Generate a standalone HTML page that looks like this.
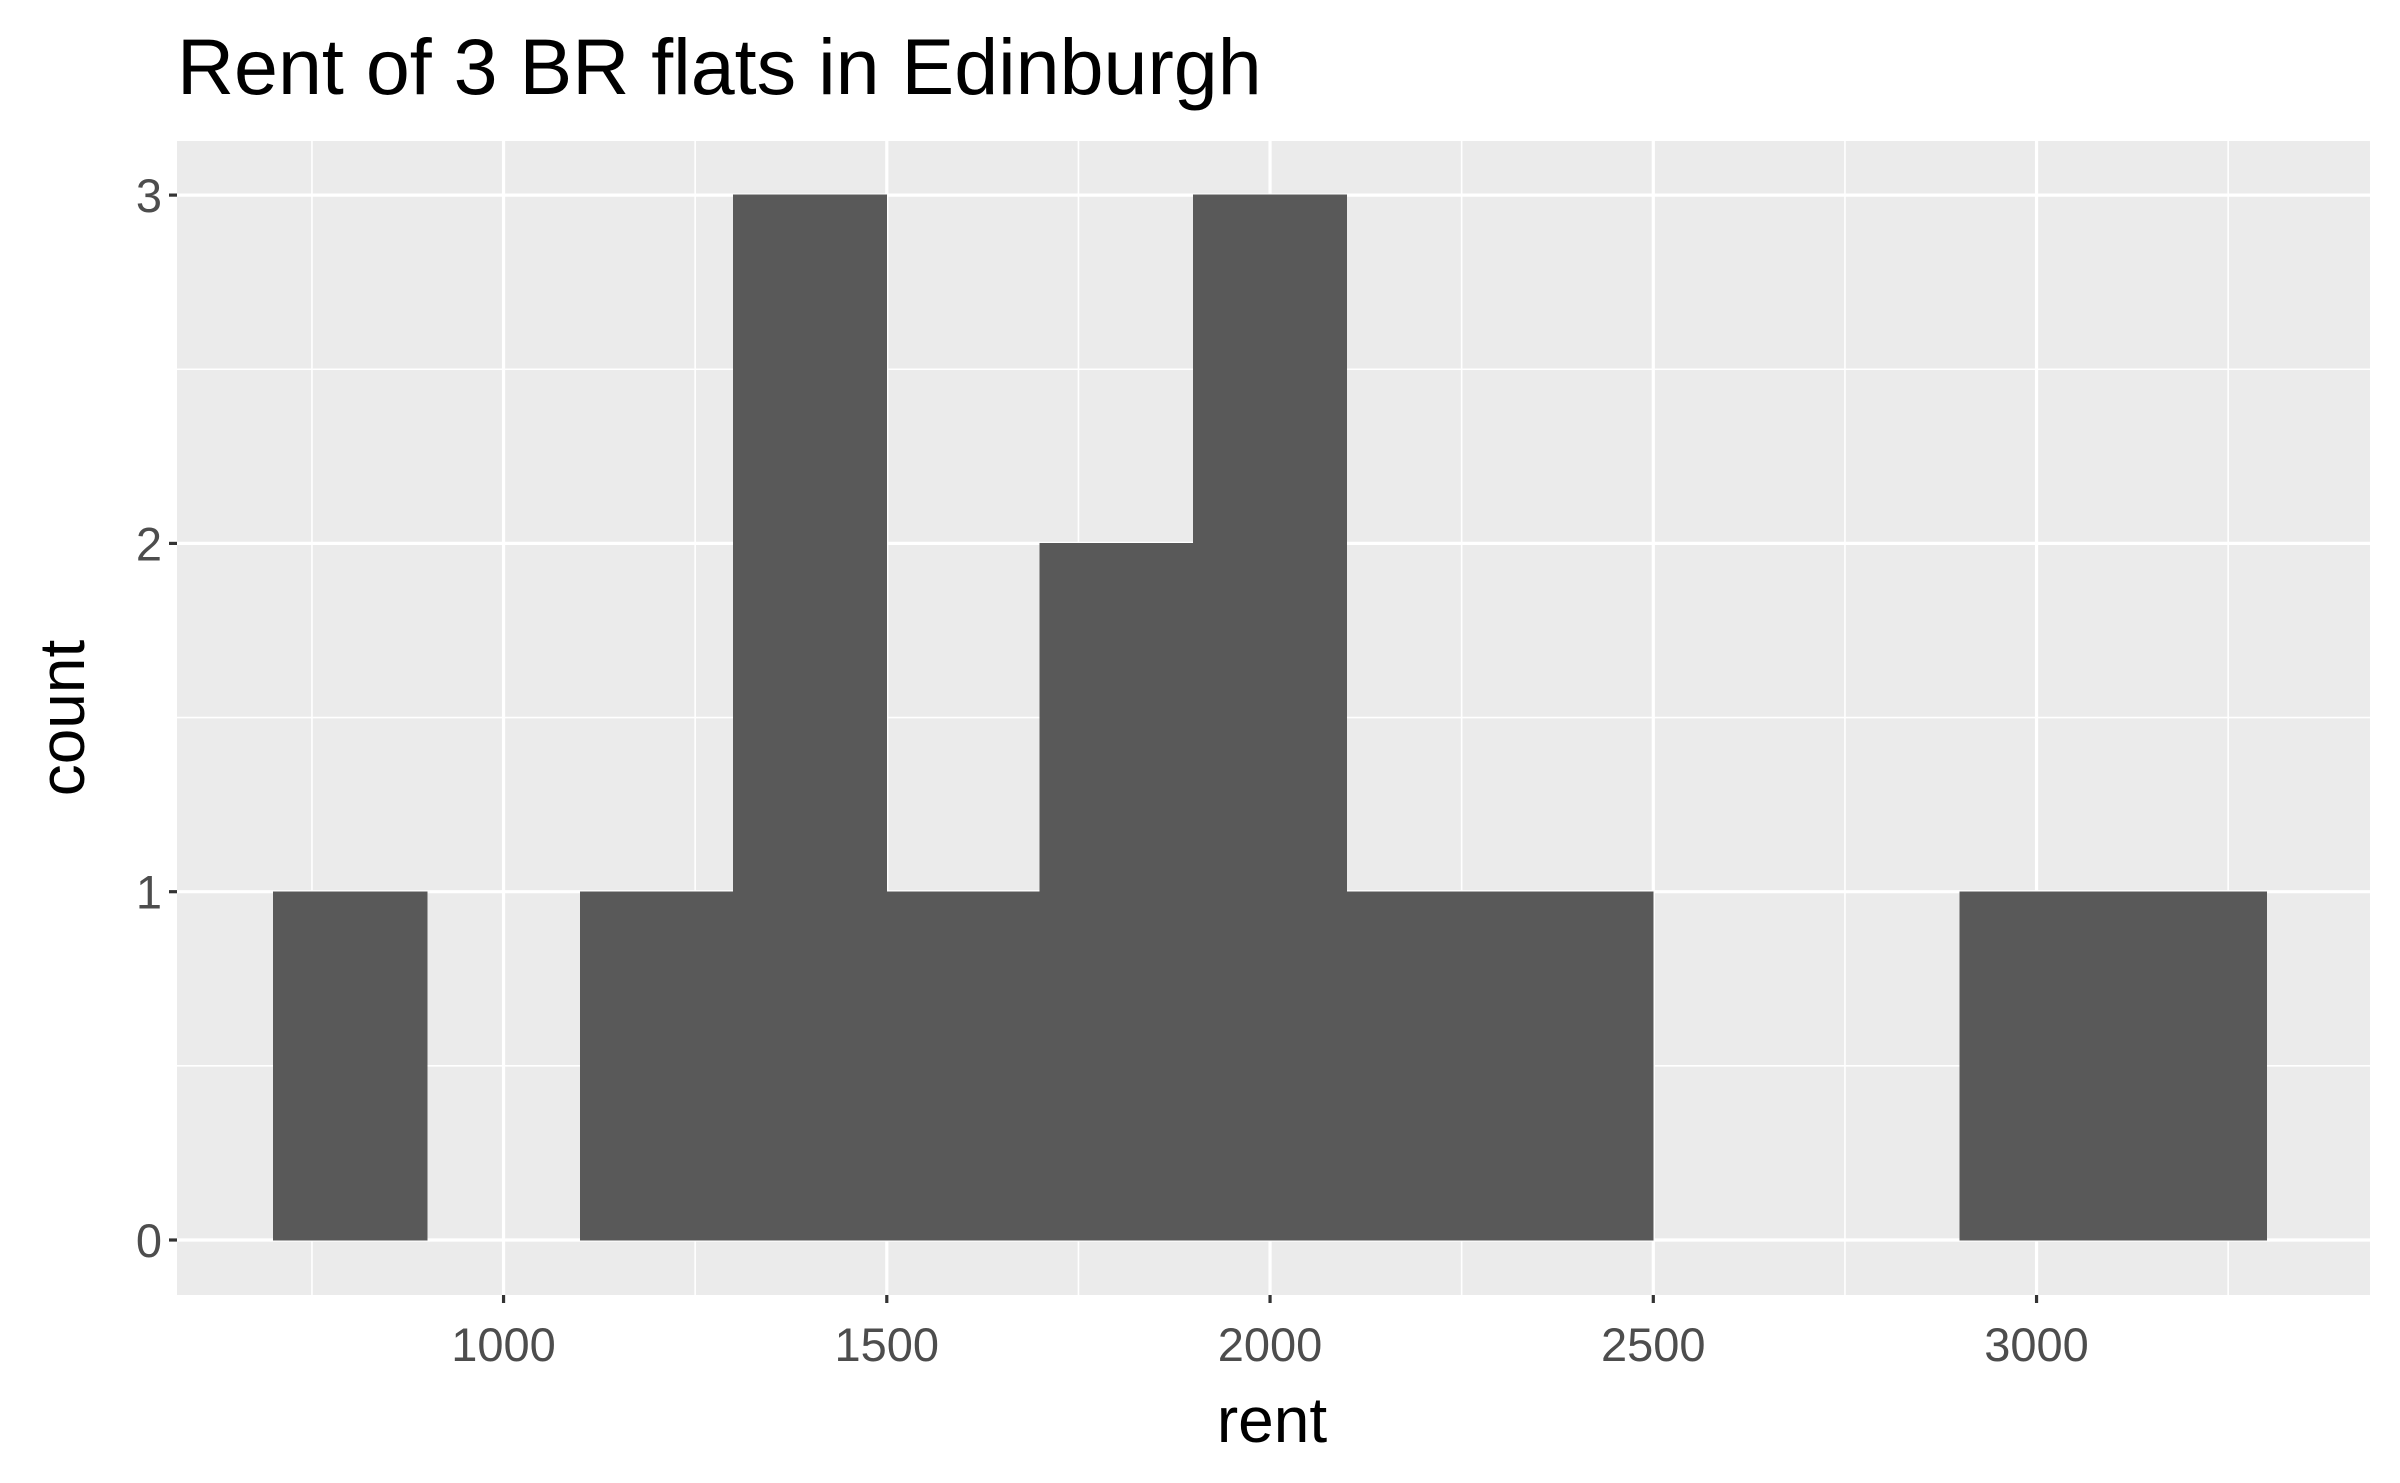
<!DOCTYPE html>
<html><head><meta charset="utf-8"><style>
body{margin:0;background:#fff}
svg{display:block;font-family:"Liberation Sans",sans-serif}
</style></head><body>
<svg id="c" width="2400" height="1483" viewBox="0 0 2400 1483">
<rect x="0" y="0" width="2400" height="1483" fill="#fff"/>
<text x="177" y="94" font-size="79" fill="#000">Rent of 3 BR flats in Edinburgh</text>
<rect id="panel" x="177" y="141" width="2193" height="1154" fill="#ebebeb"/>
<g id="grid"></g><g id="bars"></g><g id="axes"></g>
<text x="1272" y="1442" font-size="64" text-anchor="middle" fill="#000">rent</text>
<text transform="translate(84,718) rotate(-90)" font-size="64" text-anchor="middle" fill="#000">count</text>
</svg>
<script>
const binStarts=[700,900,1100,1300,1500,1700,1900,2100,2300,2500,2700,2900,3100];
const counts=[1,0,1,3,1,2,3,1,1,0,0,1,1];
const binWidth=200;
const xTicks=[1000,1500,2000,2500,3000];
const xMinor=[750,1250,1750,2250,2750,3250];
const yTicks=[0,1,2,3];
const yMinor=[0.5,1.5,2.5];
const NS="http://www.w3.org/2000/svg";
const L=177,R=2370,T=141,B=1295;
function xs(v){return 273.6+(v-700)*0.7665;}
function ys(v){return 1240-v*348.3;}
function mk(tag,attrs,parent){const e=document.createElementNS(NS,tag);for(const k in attrs)e.setAttribute(k,attrs[k]);parent.appendChild(e);return e;}
const grid=document.getElementById('grid'),bars=document.getElementById('bars'),axes=document.getElementById('axes');
xMinor.forEach(v=>{const e=mk('line',{x1:xs(v),x2:xs(v),y1:T,y2:B,stroke:'#fff','stroke-width':1.6},grid);

});
yMinor.forEach(v=>{const e=mk('line',{x1:L,x2:R,y1:ys(v),y2:ys(v),stroke:'#fff','stroke-width':1.6},grid);

});
xTicks.forEach(v=>{const e=mk('line',{x1:xs(v),x2:xs(v),y1:T,y2:B,stroke:'#fff','stroke-width':3.2},grid);


const t=mk('line',{x1:xs(v),x2:xs(v),y1:B,y2:B+8,stroke:'#333','stroke-width':3.2},axes);


const l=mk('text',{x:xs(v),y:B+66,'font-size':47,'text-anchor':'middle',fill:'#4d4d4d'},axes);l.textContent=v;

});
yTicks.forEach(v=>{const e=mk('line',{x1:L,x2:R,y1:ys(v),y2:ys(v),stroke:'#fff','stroke-width':3.2},grid);


const t=mk('line',{x1:L-8,x2:L,y1:ys(v),y2:ys(v),stroke:'#333','stroke-width':3.2},axes);


const l=mk('text',{x:L-15,y:ys(v)+17,'font-size':47,'text-anchor':'end',fill:'#4d4d4d'},axes);l.textContent=v;

});
binStarts.forEach((s,i)=>{if(counts[i]<=0)return;
const b=mk('rect',{x:xs(s),y:ys(counts[i]),width:xs(s+binWidth)-xs(s),height:ys(0)-ys(counts[i]),fill:'#595959',stroke:'#595959','stroke-width':0.8,'shape-rendering':'crispEdges'},bars);

});
</script>
</body></html>
